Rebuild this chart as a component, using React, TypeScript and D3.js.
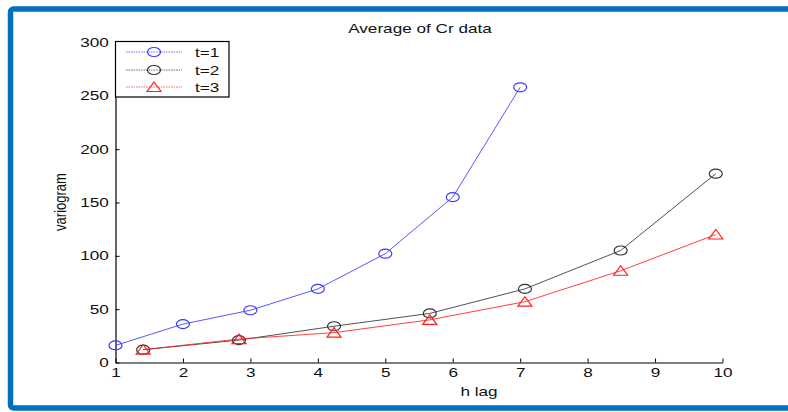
import { useEffect, useRef } from "react";
import * as d3 from "d3";

const lag1 = [1, 2, 3, 4, 5, 6, 7];
const t1 = [16, 36, 49, 69, 102, 155, 258];
const lagDiag = [1.41, 2.83, 4.24, 5.66, 7.07, 8.49, 9.9];
const t2 = [12, 21, 34, 46, 69, 105, 177];
const t3 = [12, 22, 28, 40, 57, 86, 120];
const xTicks = [1, 2, 3, 4, 5, 6, 7, 8, 9, 10];
const yTicks = [0, 50, 100, 150, 200, 250, 300];
const seriesNames = ["t=1", "t=2", "t=3"];

const FONT = "'Liberation Sans', Arial, sans-serif";
// the picture is stretched sideways, text too
const SX = 1.32;

export default function App() {
  const svgRef = useRef<SVGSVGElement | null>(null);

  useEffect(() => {
    if (!svgRef.current) return;
    const root = d3.select(svgRef.current);
    root.selectAll("*").remove();

    // outer blue frame
    root
      .append("rect")
      .attr("x", 10.5)
      .attr("y", 9)
      .attr("width", 800)
      .attr("height", 399)
      .attr("rx", 3)
      .attr("fill", "none")
      .attr("stroke", "#0070c0")
      .attr("stroke-width", 5.5);

    const x = d3.scaleLinear().domain([1, 10]).range([115.5, 722.5]);
    const y = d3.scaleLinear().domain([0, 300]).range([362.5, 42.5]);

    const xAxis = root
      .append("g")
      .attr("transform", `translate(0,${y(0)})`)
      .call(
        d3
          .axisBottom(x)
          .tickValues(xTicks)
          .tickSizeInner(-4)
          .tickSizeOuter(0)
          .tickPadding(5)
          .tickFormat(d3.format("d"))
      );
    const yAxis = root
      .append("g")
      .attr("transform", `translate(${x(1)},0)`)
      .call(
        d3
          .axisLeft(y)
          .tickValues(yTicks)
          .tickSizeInner(-4)
          .tickSizeOuter(0)
          .tickPadding(5)
          .tickFormat(d3.format("d"))
      );
    [xAxis, yAxis].forEach((g) => {
      g.select(".domain").attr("stroke", "#000").attr("stroke-width", 1.2);
      g.selectAll(".tick line").attr("stroke", "#000");
      g.selectAll(".tick text")
        .attr("fill", "#111")
        .attr("transform", `scale(${SX},1)`)
        .style("font-family", FONT)
        .style("font-size", "13px");
    });

    const label = (tx: number, ty: number, txt: string, rot = false) =>
      root
        .append("text")
        .attr(
          "transform",
          rot
            ? `translate(${tx},${ty}) rotate(-90) scale(1,${SX})`
            : `translate(${tx},${ty}) scale(${SX},1)`
        )
        .attr("text-anchor", "middle")
        .style("font-family", FONT)
        .style("font-size", "13px")
        .attr("fill", "#111")
        .text(txt);

    label(420, 33, "Average of Cr data");
    label(479, 396, "h lag");
    label(66, 202, "variogram", true);

    const series = [
      { xs: lag1, ys: t1, color: "#3b3bff", marker: "circle" },
      { xs: lagDiag, ys: t2, color: "#333333", marker: "circle" },
      { xs: lagDiag, ys: t3, color: "#ff2020", marker: "triangle" },
    ];

    const line = d3
      .line<[number, number]>()
      .x((d) => x(d[0]))
      .y((d) => y(d[1]));

    const drawMarker = (
      g: d3.Selection<SVGGElement, unknown, null, undefined>,
      cx: number,
      cy: number,
      marker: string,
      color: string
    ) => {
      if (marker === "circle") {
        g.append("ellipse")
          .attr("cx", cx)
          .attr("cy", cy)
          .attr("rx", 6.5)
          .attr("ry", 4.5)
          .attr("fill", "none")
          .attr("stroke", color)
          .attr("stroke-width", 1.2);
      } else {
        g.append("path")
          .attr(
            "d",
            `M${cx - 7},${cy + 4.5}L${cx + 7},${cy + 4.5}L${cx},${cy - 5}Z`
          )
          .attr("fill", "none")
          .attr("stroke", color)
          .attr("stroke-width", 1.2);
      }
    };

    series.forEach((s) => {
      const pts = s.xs.map((v, i) => [v, s.ys[i]] as [number, number]);
      const g = root.append("g");
      g.append("path")
        .attr("d", line(pts))
        .attr("fill", "none")
        .attr("stroke", s.color)
        .attr("stroke-width", 1)
        .attr("opacity", 0.85);
      pts.forEach((p) => drawMarker(g, x(p[0]), y(p[1]), s.marker, s.color));
    });

    // legend
    const leg = root.append("g");
    leg
      .append("rect")
      .attr("x", 115.5)
      .attr("y", 41.5)
      .attr("width", 113.5)
      .attr("height", 55.5)
      .attr("fill", "#fff")
      .attr("stroke", "#000")
      .attr("stroke-width", 1.2);
    const rowY = [52, 70, 87];
    series.forEach((s, i) => {
      leg
        .append("line")
        .attr("x1", 126)
        .attr("x2", 182)
        .attr("y1", rowY[i])
        .attr("y2", rowY[i])
        .attr("stroke", s.color)
        .attr("stroke-width", 1)
        .attr("stroke-dasharray", "1.5,1")
        .attr("opacity", 0.7);
      drawMarker(leg, 154, rowY[i], s.marker, s.color);
      leg
        .append("text")
        .attr("transform", `translate(195,${rowY[i] + 5}) scale(${SX},1)`)
        .style("font-family", FONT)
        .style("font-size", "13px")
        .attr("fill", "#111")
        .text(seriesNames[i]);
    });
  }, []);

  return (
    <div style={{ position: "absolute", left: 0, top: 0 }}>
      <svg
        ref={svgRef}
        width={788}
        height={412}
        style={{ display: "block", background: "#fff" }}
      />
    </div>
  );
}
